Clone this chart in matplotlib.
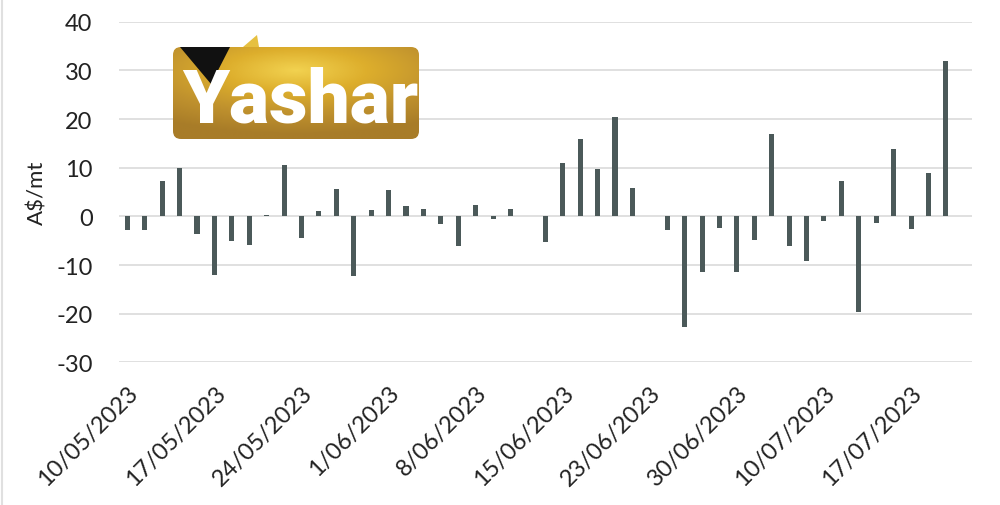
import numpy as np
import matplotlib
matplotlib.use("Agg")
from matplotlib import pyplot as plt
from matplotlib.patches import FancyBboxPatch, Polygon
from matplotlib.lines import Line2D
from matplotlib.transforms import ScaledTranslation

# daily change, A$/mt
values = [-2.9, -2.9, 7.3, 10.0, -3.7, -12.1, -5.1, -5.8, 0.3, 10.5,
          -4.5, 1.2, 5.7, -12.3, 1.3, 5.5, 2.2, 1.6, -1.5, -6.1,
          2.3, -0.5, 1.6, 0.0, -5.3, 11.0, 15.8, 9.8, 20.5, 5.8,
          0.0, -2.9, -22.7, -11.4, -2.3, -11.4, -4.9, 17.0, -6.1, -9.2,
          -1.0, 7.2, -19.6, -1.4, 13.8, -2.7, 9.0, 31.9]
tick_labels = ["10/05/2023", "17/05/2023", "24/05/2023", "1/06/2023", "8/06/2023",
               "15/06/2023", "23/06/2023", "30/06/2023", "10/07/2023", "17/07/2023"]
y_ticks = [-30, -20, -10, 0, 10, 20, 30, 40]

plt.rcParams['font.family'] = ['Lato', 'DejaVu Sans']

fig = plt.figure(figsize=(10, 5.06), dpi=100)
ax = fig.add_axes([0.119, 0.282, 0.853, 0.673])

x = np.arange(len(values))
ax.bar(x, values, width=0.29, color='#4B5959', zorder=3)

ax.set_xlim(-0.48, 48.5)
ax.set_ylim(-30, 40)
ax.set_yticks(y_ticks)
ax.set_yticklabels([str(v) for v in y_ticks], fontsize=17, color='#222222')
ax.set_xticks(x[::5])
ax.set_xticklabels(tick_labels, rotation=45, ha='right', rotation_mode='anchor',
                   fontsize=17, color='#222222')
shift = ScaledTranslation(-7 / 100, 0, fig.dpi_scale_trans)
for lab in ax.get_xticklabels():
    lab.set_transform(lab.get_transform() + shift)
ax.tick_params(axis='both', length=0)
ax.tick_params(axis='y', pad=19)
ax.tick_params(axis='x', pad=14)
ax.grid(axis='y', color='#dddddd', linewidth=1.3, zorder=0)
for s in ax.spines.values():
    s.set_visible(False)
ax.set_ylabel("A$/mt", fontsize=16, color='#222222', labelpad=6)

# left border of the picture
fig.add_artist(Line2D([0.002, 0.002], [0, 1], color='#e0e0e0', linewidth=1.5))

# logo
lg = fig.add_axes([173 / 1000, 1 - 140 / 506, 246 / 1000, 92 / 506])
lg.set_xlim(0, 246)
lg.set_ylim(0, 92)
lg.axis('off')
gx, gy = np.meshgrid(np.linspace(-1, 1, 200), np.linspace(-1, 1, 80))
r = np.sqrt((gx * 0.8) ** 2 + ((gy - 0.5) * 1.0) ** 2)
gold = matplotlib.colors.LinearSegmentedColormap.from_list(
    'gold', ['#F2D250', '#DDAE2C', '#C0922E', '#A87C28'])
box = FancyBboxPatch((0, 0), 246, 92, boxstyle="round,pad=0,rounding_size=8",
                     facecolor='none', edgecolor='none')
lg.add_patch(box)
im = lg.imshow(r, cmap=gold, extent=(0, 246, 0, 92), origin='lower',
               aspect='auto', vmin=0, vmax=1.4)
im.set_clip_path(box)
lg.add_patch(Polygon([(70, 92), (84, 104), (86, 92)], closed=True,
                     facecolor='#E6C040', edgecolor='none', clip_on=False))
lg.add_patch(Polygon([(7, 92), (57, 92), (38, 55)], closed=True,
                     facecolor='#111111', edgecolor='none', zorder=3))
lg.text(127, 38, "Yashar", fontsize=54, fontweight='heavy', color='white',
        family=['Roboto', 'DejaVu Sans'], ha='center', va='center', zorder=4)

fig.savefig('out.png', dpi=100, facecolor='white')
